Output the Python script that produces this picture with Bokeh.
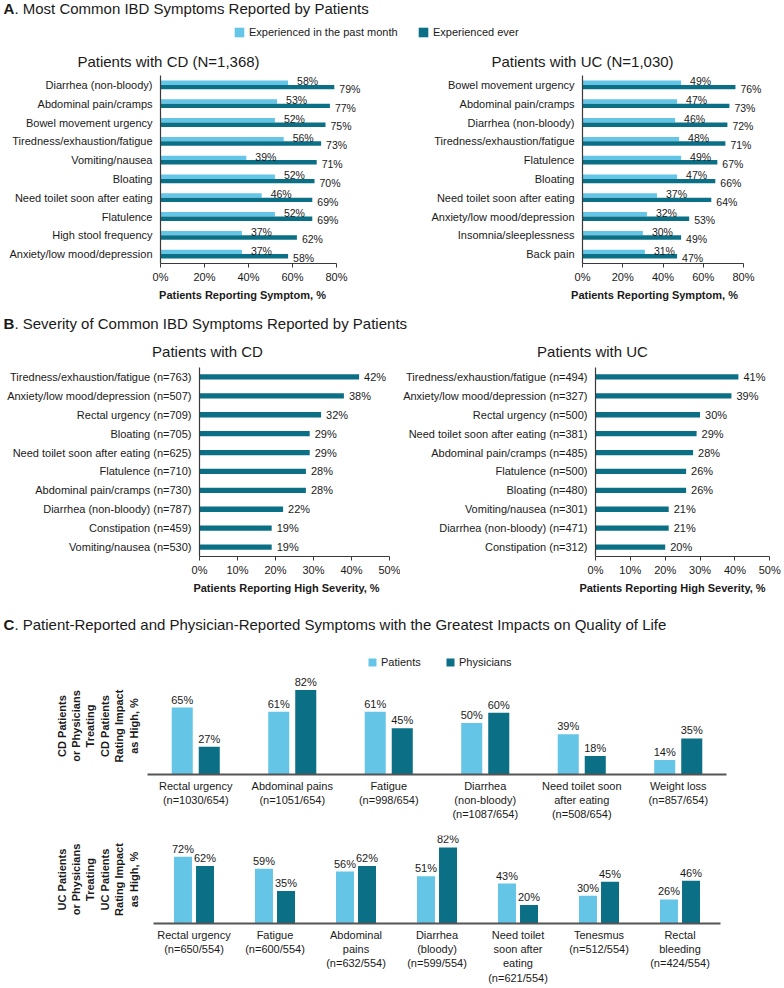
from bokeh.plotting import figure
from bokeh.layouts import column, row
from bokeh.models import (ColumnDataSource, FactorRange, Range1d, LabelSet, Label,
                          Legend, LegendItem, FixedTicker, PrintfTickFormatter)
from bokeh.transform import dodge
from bokeh.core.properties import value
from bokeh.embed import file_html
from bokeh.resources import INLINE

# ---------------- data ----------------
a_cd_symptoms = ["Diarrhea (non-bloody)", "Abdominal pain/cramps", "Bowel movement urgency",
                 "Tiredness/exhaustion/fatigue", "Vomiting/nausea", "Bloating",
                 "Need toilet soon after eating", "Flatulence", "High stool frequency",
                 "Anxiety/low mood/depression"]
a_cd_month = [58, 53, 52, 56, 39, 52, 46, 52, 37, 37]
a_cd_ever = [79, 77, 75, 73, 71, 70, 69, 69, 62, 58]

a_uc_symptoms = ["Bowel movement urgency", "Abdominal pain/cramps", "Diarrhea (non-bloody)",
                 "Tiredness/exhaustion/fatigue", "Flatulence", "Bloating",
                 "Need toilet soon after eating", "Anxiety/low mood/depression",
                 "Insomnia/sleeplessness", "Back pain"]
a_uc_month = [49, 47, 46, 48, 49, 47, 37, 32, 30, 31]
a_uc_ever = [76, 73, 72, 71, 67, 66, 64, 53, 49, 47]

b_cd_symptoms = ["Tiredness/exhaustion/fatigue (n=763)", "Anxiety/low mood/depression (n=507)",
                 "Rectal urgency (n=709)", "Bloating (n=705)",
                 "Need toilet soon after eating (n=625)", "Flatulence (n=710)",
                 "Abdominal pain/cramps (n=730)", "Diarrhea (non-bloody) (n=787)",
                 "Constipation (n=459)", "Vomiting/nausea (n=530)"]
b_cd_high = [42, 38, 32, 29, 29, 28, 28, 22, 19, 19]

b_uc_symptoms = ["Tiredness/exhaustion/fatigue (n=494)", "Anxiety/low mood/depression (n=327)",
                 "Rectal urgency (n=500)", "Need toilet soon after eating (n=381)",
                 "Abdominal pain/cramps (n=485)", "Flatulence (n=500)", "Bloating (n=480)",
                 "Vomiting/nausea (n=301)", "Diarrhea (non-bloody) (n=471)",
                 "Constipation (n=312)"]
b_uc_high = [41, 39, 30, 29, 28, 26, 26, 21, 21, 20]

c_cd_symptoms = ["Rectal urgency\n(n=1030/654)", "Abdominal pains\n(n=1051/654)",
                 "Fatigue\n(n=998/654)", "Diarrhea\n(non-bloody)\n(n=1087/654)",
                 "Need toilet soon\nafter eating\n(n=508/654)", "Weight loss\n(n=857/654)"]
c_cd_patients = [65, 61, 61, 50, 39, 14]
c_cd_physicians = [27, 82, 45, 60, 18, 35]

c_uc_symptoms = ["Rectal urgency\n(n=650/554)", "Fatigue\n(n=600/554)",
                 "Abdominal\npains\n(n=632/554)", "Diarrhea\n(bloody)\n(n=599/554)",
                 "Need toilet\nsoon after\neating\n(n=621/554)", "Tenesmus\n(n=512/554)",
                 "Rectal\nbleeding\n(n=424/554)"]
c_uc_patients = [72, 59, 56, 51, 43, 30, 26]
c_uc_physicians = [62, 35, 62, 82, 20, 45, 46]

a_ticks = [0, 20, 40, 60, 80]
b_ticks = [0, 10, 20, 30, 40, 50]

# ---------------- style ----------------
FONT = "Liberation Sans"
TXT = "#1a1a1a"
LIGHT = "#64C5E6"
DARK = "#0B6F86"
AXC = "#3a3a3a"
W = 782


def pct(vals):
    return [f"{v}%" for v in vals]


def base_fig(w, h, xr, yr, left, right, top, bottom):
    p = figure(width=w, height=h, x_range=xr, y_range=yr, output_backend="svg",
               toolbar_location=None, min_border_left=left, min_border_right=right,
               min_border_top=top, min_border_bottom=bottom,
               background_fill_color="white", border_fill_color="white",
               outline_line_color=None)
    p.xgrid.visible = False
    p.ygrid.visible = False
    return p


def strip(h):
    p = figure(width=W, height=h, x_range=Range1d(0, W), y_range=Range1d(0, h),
               x_axis_location=None, y_axis_location=None, output_backend="svg",
               toolbar_location=None, min_border=0, outline_line_color=None,
               background_fill_color="white", border_fill_color="white")
    p.grid.visible = False
    return p


def text(p, x, y, s, size="15px", style="normal", align="left"):
    p.add_layout(Label(x=x, y=y, text=s, text_font=FONT, text_font_size=size,
                       text_font_style=style, text_align=align, text_baseline="middle",
                       text_color=TXT))


def section_title(p, y, letter, rest):
    text(p, 3, y, letter, style="bold")
    text(p, 3 + 10.9, y, rest)


def legend_entry(p, name, color, lx, ly, gs):
    # invisible zero-size proxy renderer so the legend can draw its swatch
    r = p.hbar(y=[-50], left=[0], right=[0], height=gs, fill_color=color, line_color=None)
    p.add_layout(Legend(items=[LegendItem(label=name, renderers=[r])], location=(lx, ly),
                        orientation="horizontal", glyph_width=gs, glyph_height=gs,
                        label_height=gs, label_standoff=4, padding=0, margin=0,
                        border_line_color=None, background_fill_alpha=0,
                        label_text_font=FONT, label_text_font_size="11px",
                        label_text_color=TXT))


def style_x_axis(ax, ticks, bound):
    ax.ticker = FixedTicker(ticks=ticks)
    ax.formatter = PrintfTickFormatter(format="%d%%")
    ax.bounds = (0, bound)
    ax.axis_line_color = AXC
    ax.axis_line_width = 1.2
    ax.major_tick_line_color = AXC
    ax.major_tick_in = 0
    ax.major_tick_out = 4
    ax.minor_tick_line_color = None
    ax.major_label_standoff = 3
    ax.major_label_text_font = FONT
    ax.major_label_text_font_size = "11px"
    ax.major_label_text_color = TXT


def style_cat_y_axis(ax):
    ax.axis_line_color = AXC
    ax.axis_line_width = 1.2
    ax.major_tick_line_color = None
    ax.major_tick_in = 0
    ax.major_tick_out = 0
    ax.minor_tick_line_color = None
    ax.major_label_standoff = 8
    ax.major_label_text_font = FONT
    ax.major_label_text_font_size = "11px"
    ax.major_label_text_color = TXT


def panel_a(symptoms, month, ever, w, left, px_per_pct):
    h, top, bottom = 214, 3, 23
    src = ColumnDataSource(dict(sym=symptoms, month=month, ever=ever,
                                ml=pct(month), el=pct(ever)))
    yr = FactorRange(factors=symptoms[::-1])
    p = base_fig(w, h, Range1d(0, (w - left) / px_per_pct), yr, left, 0, top, bottom)
    off, bh = 0.117, 0.234
    p.hbar(y=dodge("sym", off, range=yr), right="month", height=bh, source=src,
           fill_color=LIGHT, line_color=None)
    p.hbar(y=dodge("sym", -off, range=yr), right="ever", height=bh, source=src,
           fill_color=DARK, line_color=None)
    p.add_layout(LabelSet(x="month", y=dodge("sym", off, range=yr), text="ml", source=src,
                          x_offset=9, y_offset=1.3, text_baseline="middle",
                          text_font=value(FONT), text_font_size=value("10.5px"),
                          text_color=TXT))
    p.add_layout(LabelSet(x="ever", y=dodge("sym", -off, range=yr), text="el", source=src,
                          x_offset=5, y_offset=-1.8, text_baseline="middle",
                          text_font=value(FONT), text_font_size=value("10.5px"),
                          text_color=TXT))
    style_x_axis(p.xaxis[0], a_ticks, 80)
    style_cat_y_axis(p.yaxis[0])
    return p


def panel_b(symptoms, high, w, left, px_per_pct):
    h, top, bottom = 218, 5, 24
    src = ColumnDataSource(dict(sym=symptoms, high=high, hl=pct(high)))
    yr = FactorRange(factors=symptoms[::-1])
    p = base_fig(w, h, Range1d(0, (w - left) / px_per_pct), yr, left, 0, top, bottom)
    p.hbar(y="sym", right="high", height=0.28, source=src, fill_color=DARK, line_color=None)
    p.add_layout(LabelSet(x="high", y="sym", text="hl", source=src, x_offset=5,
                          text_baseline="middle", text_font=value(FONT),
                          text_font_size=value("11px"), text_color=TXT))
    style_x_axis(p.xaxis[0], b_ticks, 50)
    style_cat_y_axis(p.yaxis[0])
    return p


def panel_c(cats, pat, phy, h, left, right, top, bottom, px_per_pct, off, bw, ylabel, standoff):
    src = ColumnDataSource(dict(cat=cats, pat=pat, phy=phy, pl=pct(pat), yl=pct(phy)))
    xr = FactorRange(factors=cats)
    fh = h - top - bottom
    p = base_fig(W, h, xr, Range1d(0, fh / px_per_pct), left, right, top, bottom)
    p.vbar(x=dodge("cat", -off, range=xr), top="pat", width=bw, source=src,
           fill_color=LIGHT, line_color=None)
    p.vbar(x=dodge("cat", off, range=xr), top="phy", width=bw, source=src,
           fill_color=DARK, line_color=None)
    for fld, lab, o in (("pat", "pl", -off), ("phy", "yl", off)):
        p.add_layout(LabelSet(x=dodge("cat", o, range=xr), y=fld, text=lab, source=src,
                              y_offset=4, text_align="center", text_baseline="alphabetic",
                              text_font=value(FONT), text_font_size=value("11px"),
                              text_color=TXT))
    xa = p.xaxis[0]
    xa.axis_line_color = "#555555"
    xa.axis_line_width = 2
    xa.major_tick_line_color = None
    xa.major_tick_in = 0
    xa.major_tick_out = 0
    xa.minor_tick_line_color = None
    xa.major_label_standoff = 5
    xa.major_label_text_font = FONT
    xa.major_label_text_font_size = "11px"
    xa.major_label_text_color = TXT
    xa.major_label_text_line_height = 1.2
    ya = p.yaxis[0]
    ya.ticker = FixedTicker(ticks=[])
    ya.axis_line_color = None
    ya.major_tick_line_color = None
    ya.minor_tick_line_color = None
    ya.major_tick_out = 0
    ya.major_tick_in = 0
    ya.axis_label = ylabel
    ya.axis_label_standoff = standoff
    ya.axis_label_text_font = FONT
    ya.axis_label_text_font_size = "11px"
    ya.axis_label_text_font_style = "bold"
    ya.axis_label_text_color = TXT
    return p


# ---------------- section A ----------------
hdr_a = strip(72)
section_title(hdr_a, 64.5, "A", ". Most Common IBD Symptoms Reported by Patients")
legend_entry(hdr_a, "Experienced in the past month", LIGHT, 233, 34, 12)
legend_entry(hdr_a, "Experienced ever", DARK, 417, 34, 12)
text(hdr_a, 168, 11, "Patients with CD (N=1,368)", align="center")
text(hdr_a, 582, 11, "Patients with UC (N=1,030)", align="center")

pa_cd = panel_a(a_cd_symptoms, a_cd_month, a_cd_ever, 390, 160, 2.2)
pa_uc = panel_a(a_uc_symptoms, a_uc_month, a_uc_ever, 392, 192, 161 / 80)

# ---------------- section B ----------------
hdr_b = strip(76)
text(hdr_b, 242, 68, "Patients Reporting Symptom, %", size="11px", style="bold", align="center")
text(hdr_b, 654, 68, "Patients Reporting Symptom, %", size="11px", style="bold", align="center")
section_title(hdr_b, 39, "B", ". Severity of Common IBD Symptoms Reported by Patients")
text(hdr_b, 207, 11, "Patients with CD", align="center")
text(hdr_b, 592, 11, "Patients with UC", align="center")

pb_cd = panel_b(b_cd_symptoms, b_cd_high, 400, 199, 3.8)
pb_uc = panel_b(b_uc_symptoms, b_uc_high, 382, 191, 3.56)

# ---------------- section C ----------------
hdr_c = strip(95)
text(hdr_c, 286, 88, "Patients Reporting High Severity, %", size="11px", style="bold",
     align="center")
text(hdr_c, 672, 88, "Patients Reporting High Severity, %", size="11px", style="bold",
     align="center")
section_title(hdr_c, 51, "C", ". Patient-Reported and Physician-Reported Symptoms with the "
              "Greatest Impacts on Quality of Life")
legend_entry(hdr_c, "Patients", LIGHT, 367, 7, 10)
legend_entry(hdr_c, "Physicians", DARK, 445, 7, 10)

pc_cd = panel_c(c_cd_symptoms, c_cd_patients, c_cd_physicians, 151, 147, 56, 2, 52,
                1.03, 0.14, 0.218,
                "CD Patients\nor Physicians\nTreating\nCD Patients\nRating Impact\nas High, %", 8)
pc_uc = panel_c(c_uc_symptoms, c_uc_patients, c_uc_physicians, 160, 153, 62, 9, 59,
                0.97, 0.136, 0.222,
                "UC Patients\nor Physicians\nTreating\nUC Patients\nRating Impact\nas High, %", 14)

layout = column(row(hdr_a), row(pa_cd, pa_uc), row(hdr_b), row(pb_cd, pb_uc),
                row(hdr_c), row(pc_cd), row(pc_uc))

with open("out.html", "w") as f:
    f.write(file_html(layout, INLINE))
